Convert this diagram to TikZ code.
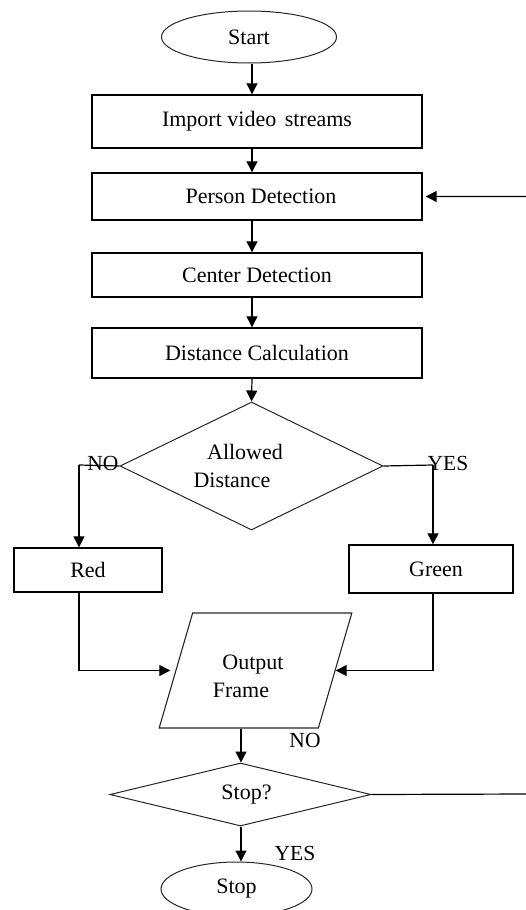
\documentclass[tikz,border=0pt]{standalone}
\usepackage{fontspec}
\setmainfont{Liberation Serif}
\usetikzlibrary{shapes.geometric,arrows.meta}
\begin{document}
\begin{tikzpicture}[x=1pt,y=-1pt,
  every node/.style={font=\fontsize{22}{28}\selectfont, inner sep=0pt},
  boxnode/.style={draw, line width=1.4pt, rectangle},
  ovalnode/.style={draw, line width=1pt, ellipse, draw=black!85},
  decnode/.style={draw, line width=1pt, diamond, draw=black!85},
  ionode/.style={draw, line width=1.1pt, trapezium, trapezium left angle=67.3, trapezium right angle=112.7, trapezium stretches=true, draw=black!85},
  conn/.style={line width=1.2pt, -{Triangle[length=11pt,width=11pt]}},
  plain/.style={line width=1.2pt},
  lbl/.style={font=\fontsize{21.5}{24}\selectfont}]
\useasboundingbox (0,0) rectangle (526,910);
% column coordinates
\coordinate (ax) at (252,0);
\coordinate (bx) at (241,0);
\coordinate (nol) at (79,465);
\coordinate (yesr) at (433,465);
\coordinate (loopr) at (527.5,794);
% nodes
\node[ovalnode, minimum width=175, minimum height=52] (start) at (249,37) {Start};
\node[boxnode, minimum width=330, minimum height=53] (import) at (257,121.5) {Import video\hspace{3pt} streams};
\node[boxnode, minimum width=330, minimum height=47] (person) at (257,196.5) {\hspace*{8pt}Person Detection};
\node[boxnode, minimum width=330, minimum height=44] (center) at (257,275) {Center Detection};
\node[boxnode, minimum width=330, minimum height=50] (dist) at (257,353) {Distance Calculation};
\node[decnode, aspect=2.05, minimum width=263, minimum height=128, align=center] (allowed) at (251.5,466) {Allowed\kern13pt\\Distance\kern39pt};
\node[boxnode, minimum width=148, minimum height=44] (red) at (88,570) {Red};
\node[boxnode, minimum width=164, minimum height=48] (green) at (431,569) {\hspace*{10pt}Green};
\node[ionode, minimum width=193, minimum height=115, align=center] (output) at (255.5,670.5) {\rule{0pt}{26pt}Output\kern5pt\\Frame\kern29pt};
\node[decnode, aspect=4.1, minimum width=261, minimum height=63] (stopq) at (240.5,794.5) {\hspace*{12pt}Stop?};
\node[ovalnode, minimum width=151, minimum height=54] (stop) at (236.5,889) {Stop};
% labels
\node[lbl] (lno1) at (103,463) {NO};
\node[lbl] (lyes1) at (448,463) {YES};
\node[lbl] (lno2) at (305,740) {NO};
\node[lbl] (lyes2) at (295,853) {YES};
% connectors
\draw[conn] (start.south -| ax) -- (import.north -| ax);
\draw[conn] (import.south -| ax) -- (person.north -| ax);
\draw[conn] (person.south -| ax) -- (center.north -| ax);
\draw[conn] (center.south -| ax) -- (dist.north -| ax);
\draw[conn] (dist.south -| ax) -- (allowed.north);
\draw[plain] (allowed.west) -- (nol);
\draw[conn] (nol) -- (nol |- red.north);
\draw[plain] (allowed.east) -- (yesr);
\draw[conn] (yesr) -- (yesr |- green.north);
\draw[conn, shorten >=5pt] (nol |- red.south) |- (output.west);
\draw[conn] (yesr |- green.south) |- (output.east);
\draw[conn] (output.south -| bx) -- (stopq.north -| bx);
\draw[conn] (stopq.south -| bx) -- (stop.north -| bx);
\draw[conn, shorten >=3pt] (stopq.east) -- (loopr) |- (person.east);
\end{tikzpicture}
\end{document}
